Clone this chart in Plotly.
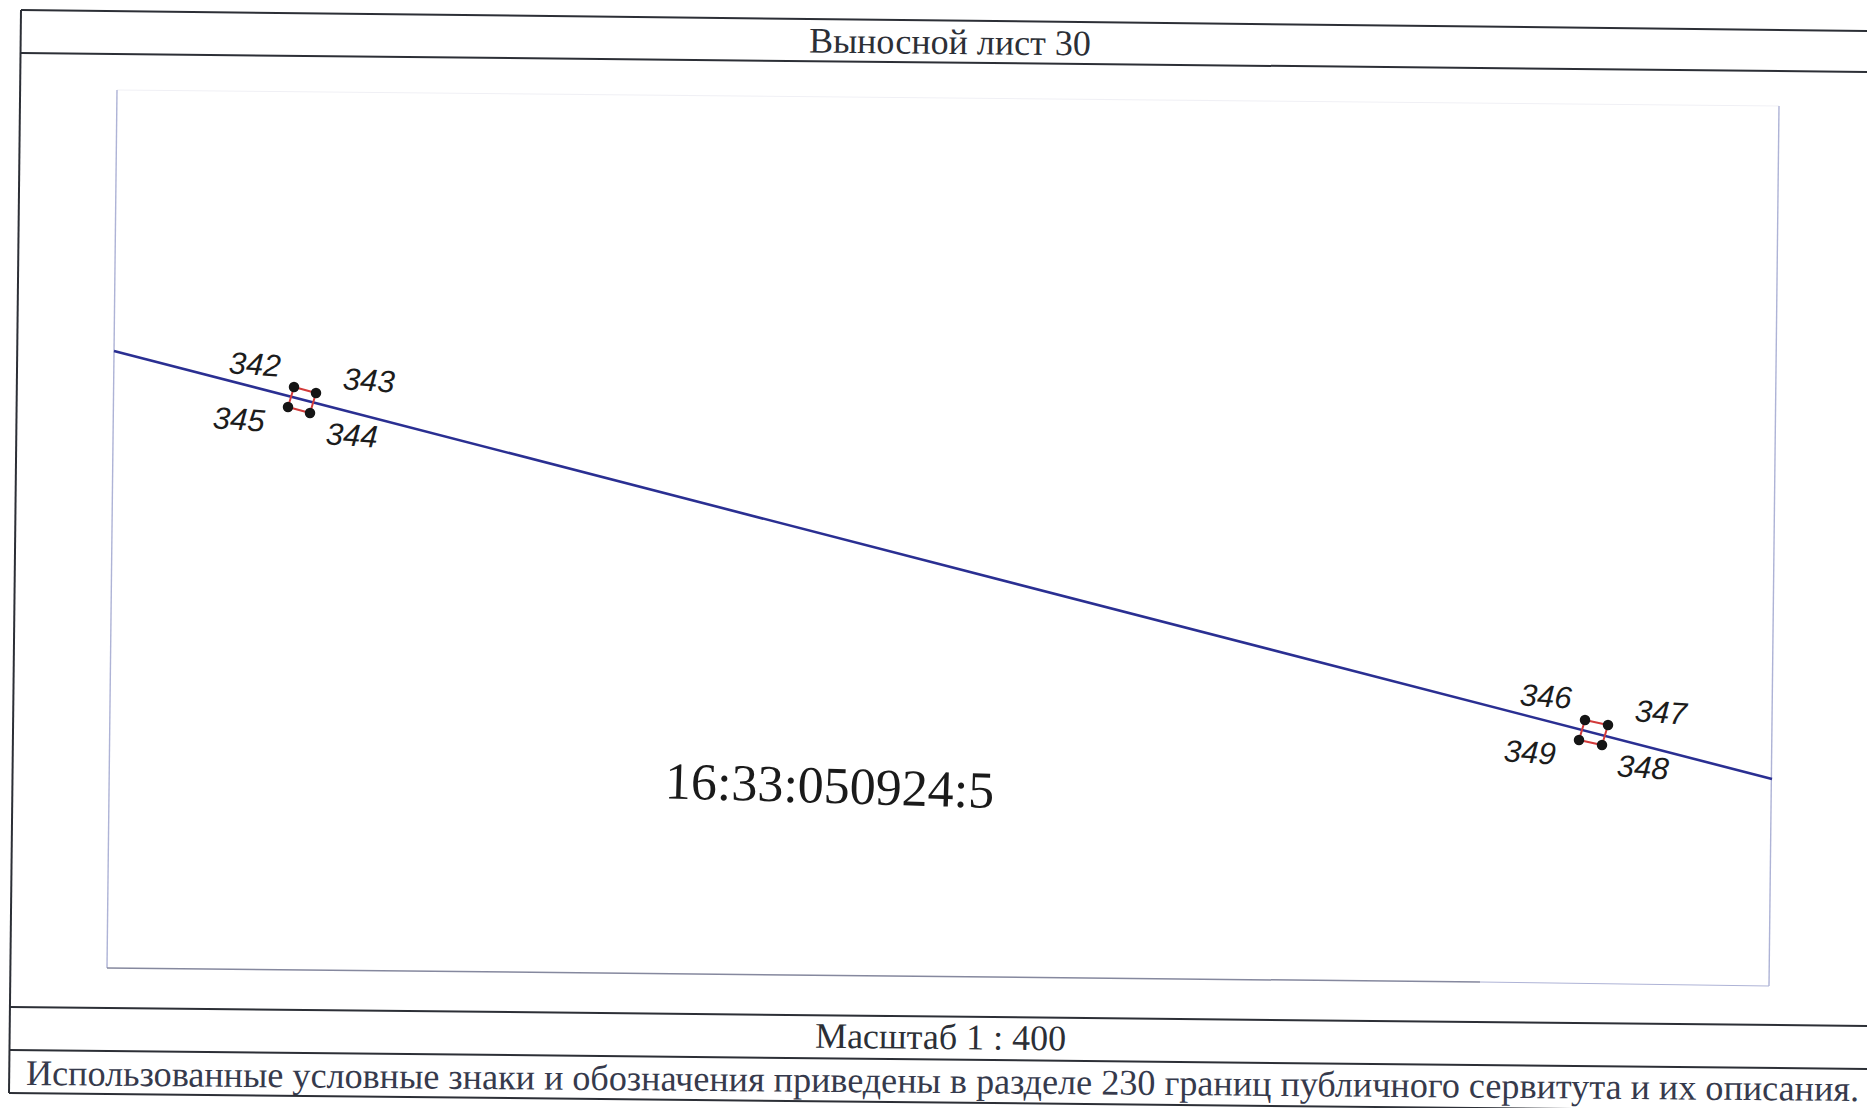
import plotly.graph_objects as go

WIDTH = 1867
HEIGHT = 1108

# Sheet frame lines: x and y in scanned-sheet pixels
frame_top_x = [21, 1867]
frame_top_y = [10, 31]
header_rule_x = [21, 1867]
header_rule_y = [53, 72]
frame_left_x = [21, 9]
frame_left_y = [10, 1093]
scale_rule_top_x = [10, 1867]
scale_rule_top_y = [1007, 1026]
scale_rule_bottom_x = [10, 1867]
scale_rule_bottom_y = [1050, 1069]
frame_bottom_x = [9, 1867]
frame_bottom_y = [1093, 1112]

# Inner map frame
map_left_x = [117, 107]
map_left_y = [90, 968]
map_bottom_x = [107, 1480]
map_bottom_y = [968, 982]
map_bottom_faint_x = [1480, 1769]
map_bottom_faint_y = [982, 986]
map_right_x = [1779, 1769]
map_right_y = [106, 986]
map_top_x = [117, 1779]
map_top_y = [90, 106]

# Boundary line
boundary_x = [114, 1772]
boundary_y = [351, 779]

# Servitude parcels
parcel_a_ids = ["342", "343", "344", "345"]
parcel_a_x = [294, 316, 310, 288]
parcel_a_y = [387, 393, 413, 407]
parcel_a_label_x = [255, 369, 352, 239]
parcel_a_label_y = [364, 380, 435, 419]

parcel_b_ids = ["346", "347", "348", "349"]
parcel_b_x = [1585, 1608, 1602, 1579]
parcel_b_y = [720, 725, 745, 740]
parcel_b_label_x = [1546, 1661, 1643, 1530]
parcel_b_label_y = [696, 712, 767, 752]

# Text
title_text = "Выносной лист 30"
scale_text = "Масштаб 1 : 400"
note_text = "Использованные условные знаки и обозначения приведены в разделе 230 границ публичного сервитута и их описания."
cadastre_text = "16:33:050924:5"

INK = "#2c2f36"
FAINT = "#aeb3d6"
FAINTER = "#f0f0f5"
BLUE = "#2a2f92"
RED = "#d23a3a"

fig = go.Figure()


def line(x, y, color, width):
    fig.add_trace(go.Scatter(x=x, y=y, mode="lines", hoverinfo="skip",
                             line=dict(color=color, width=width)))


for lx, ly in [(frame_top_x, frame_top_y), (header_rule_x, header_rule_y),
               (frame_left_x, frame_left_y), (scale_rule_top_x, scale_rule_top_y),
               (scale_rule_bottom_x, scale_rule_bottom_y), (frame_bottom_x, frame_bottom_y)]:
    line(lx, ly, INK, 2)

line(map_top_x, map_top_y, FAINTER, 1)
line(map_left_x, map_left_y, FAINT, 1.4)
line(map_right_x, map_right_y, FAINT, 1.4)
line(map_bottom_x, map_bottom_y, "#85889e", 1.5)
line(map_bottom_faint_x, map_bottom_faint_y, FAINT, 1)
line(boundary_x, boundary_y, BLUE, 2.6)

for px, py in [(parcel_a_x, parcel_a_y), (parcel_b_x, parcel_b_y)]:
    line(px + px[:1], py + py[:1], RED, 2)
    fig.add_trace(go.Scatter(x=px, y=py, mode="markers", hoverinfo="skip",
                             marker=dict(color="#151515", size=10.5)))

for ids, xs, ys in [(parcel_a_ids, parcel_a_label_x, parcel_a_label_y),
                    (parcel_b_ids, parcel_b_label_x, parcel_b_label_y)]:
    for t, x, y in zip(ids, xs, ys):
        fig.add_annotation(x=x, y=y, text=f"<i>{t}</i>", showarrow=False, textangle=4,
                           font=dict(family="Liberation Sans", size=31, color="#1c1c1c"))

SERIF = "Liberation Serif"
fig.add_annotation(x=950, y=42, text=title_text, showarrow=False, textangle=0.6,
                   font=dict(family=SERIF, size=36, color=INK))
fig.add_annotation(x=940, y=1037, text=scale_text, showarrow=False, textangle=0.6,
                   font=dict(family=SERIF, size=36, color=INK))
fig.add_annotation(x=942, y=1081, text=note_text, showarrow=False, textangle=0.5,
                   font=dict(family=SERIF, size=36.15, color="#363a4c"))
fig.add_annotation(x=829, y=785, text=cadastre_text, showarrow=False, textangle=1.7,
                   font=dict(family=SERIF, size=52, color="#1a1a1a"))

fig.update_layout(
    width=WIDTH, height=HEIGHT, showlegend=False,
    margin=dict(l=0, r=0, t=0, b=0),
    paper_bgcolor="white", plot_bgcolor="white",
    xaxis=dict(range=[0, WIDTH], visible=False, fixedrange=True),
    yaxis=dict(range=[HEIGHT, 0], visible=False, fixedrange=True),
)

fig.write_html("out.html", config={"displayModeBar": False},
               post_script="document.body.style.margin='0';document.body.style.overflow='hidden';")
